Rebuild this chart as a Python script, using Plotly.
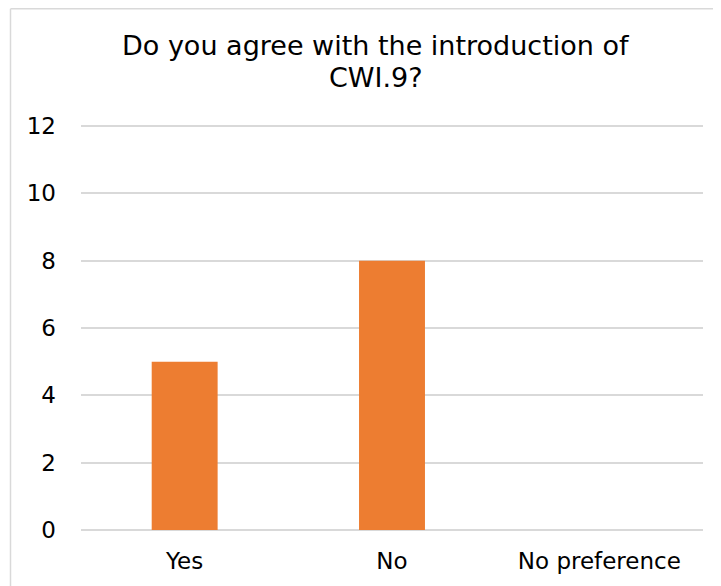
import plotly.graph_objects as go

categories = ["Yes", "No", "No preference"]
values = [5, 8, 0]
y_ticks = [0, 2, 4, 6, 8, 10, 12]
title_lines = ["Do you agree with the introduction of", "CWI.9?"]

W, H = 721, 586
L, R, T, B = 73, 26, 117, 64
pw = W - L - R
ph = H - T - B
OFF = 8  # page body offset


def py(page_y):
    return (H - B - (page_y - OFF)) / ph


def px(page_x):
    return (page_x - OFF - L) / pw


fig = go.Figure()
fig.add_trace(go.Bar(
    x=categories, y=values,
    marker=dict(color="#ED7D31", line=dict(width=0)),
    width=0.318,
    hoverinfo="x+y",
))

fig.update_layout(
    width=W, height=H,
    margin=dict(l=L, r=R, t=T, b=B, autoexpand=False),
    paper_bgcolor="white", plot_bgcolor="white",
    font=dict(family="DejaVu Sans, Verdana, sans-serif", size=23, color="#000000"),
    showlegend=False,
    xaxis=dict(showgrid=False, showline=False, ticks="", ticklen=0,
               ticklabelstandoff=15, tickfont=dict(size=23)),
    yaxis=dict(range=[0, 12.03], tickvals=y_ticks, showgrid=True,
               gridcolor="#D9D9D9", gridwidth=1.5, zeroline=True,
               zerolinecolor="#D9D9D9", zerolinewidth=1.5, showline=False,
               ticks="", ticklabelstandoff=24, tickfont=dict(size=23)),
)

for txt, yc in zip(title_lines, [45, 77]):
    fig.add_annotation(text=txt, xref="paper", yref="paper",
                       x=px(376), y=py(yc), xanchor="center", yanchor="middle",
                       showarrow=False, font=dict(size=27, color="#000000"))

# chart area border (left and top visible)
bx = px(10.5)
by = py(8.75)
fig.add_shape(type="line", xref="paper", yref="paper",
              x0=bx, x1=bx, y0=-0.3, y1=by,
              line=dict(color="#D9D9D9", width=1.5))
fig.add_shape(type="line", xref="paper", yref="paper",
              x0=bx, x1=px(725), y0=by, y1=by,
              line=dict(color="#D9D9D9", width=1.5))

fig.write_html("out.html")
